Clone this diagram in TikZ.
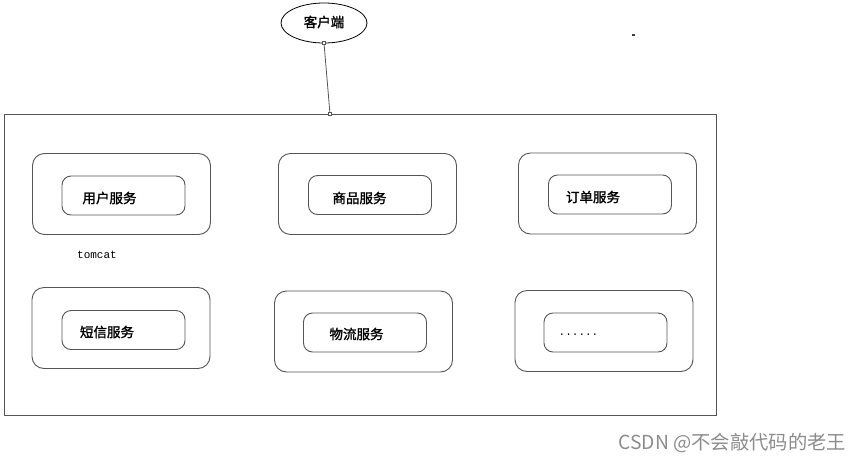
\documentclass[tikz,border=0pt]{standalone}
\usepackage{fontspec}
\newfontfamily\cjk{Noto Sans CJK SC}
\newfontfamily\cjkb[FakeBold=1.5]{Noto Sans CJK SC}
\newfontfamily\monof{Liberation Mono}
\usetikzlibrary{shapes.geometric}
\definecolor{edge}{RGB}{85,85,85}
\definecolor{wm}{RGB}{140,140,140}
\tikzset{
  every node/.style={inner sep=0pt, outer sep=0pt},
  outerbox/.style={draw=edge, line width=0.9pt, rounded corners=12pt, minimum width=178pt, minimum height=81pt},
  innerbox/.style={draw=edge, line width=0.9pt, rounded corners=9pt, minimum width=123pt, minimum height=39pt},
  lbl/.style={font=\cjkb\fontsize{13.5}{13.5}\selectfont, text=black},
  pin/.style={draw=edge, fill=white, line width=0.6pt, minimum size=3pt}
}
\begin{document}
\begin{tikzpicture}[x=1pt,y=-1pt]
\useasboundingbox (0,0) rectangle (865,464);
% container
\node[draw=edge, line width=0.9pt, minimum width=712pt, minimum height=301pt] (big) at (360,264.5) {};
% client
\node[draw=black, line width=0.8pt, ellipse, minimum width=86pt, minimum height=40pt] (client) at (324,23) {};
\node[lbl] (clientlbl) at (324,22) {客户端};
\coordinate (cpt) at (330,114);
\draw[edge, line width=0.8pt] (client.south) -- (cpt);
\node[pin] (pa) at (client.south) {};
\node[pin] (pb) at (cpt) {};
% outer boxes
\node[outerbox] (o1) at (121.5,194) {};
\node[outerbox] (o2) at (367.5,194) {};
\node[outerbox] (o3) at (607.5,193.5) {};
\node[outerbox] (o4) at (121,328) {};
\node[outerbox] (o5) at (363.5,331.5) {};
\node[outerbox] (o6) at (604,331) {};
% inner boxes
\node[innerbox] (i1) at (123.5,195.5) {};
\node[innerbox] (i2) at (370,195) {};
\node[innerbox] (i3) at (610,194.5) {};
\node[innerbox] (i4) at (123.5,330) {};
\node[innerbox] (i5) at (365,332.5) {};
\node[innerbox] (i6) at (605.5,332.5) {};
% labels
\node[lbl] (t1) at (109.5,198) {用户服务};
\node[lbl] (t2) at (359.5,198) {商品服务};
\node[lbl] (t3) at (593,197) {订单服务};
\node[lbl] (t4) at (107,332) {短信服务};
\node[lbl] (t5) at (356.5,334) {物流服务};
\node[font=\monof\fontsize{11}{11}\selectfont] (t6) at (578.5,335) {......};
\node[font=\monof\fontsize{11}{11}\selectfont] (tomcat) at (97,255) {tomcat};
% stray mark
\node[fill=black!75, minimum width=3pt, minimum height=2.5pt] (mark) at (633.5,35) {};
% watermark
\node[font=\cjk\fontsize{19.3}{19.3}\selectfont, text=wm, anchor=east] (wmk) at (846,443) {CSDN @不会敲代码的老王};
\end{tikzpicture}
\end{document}
